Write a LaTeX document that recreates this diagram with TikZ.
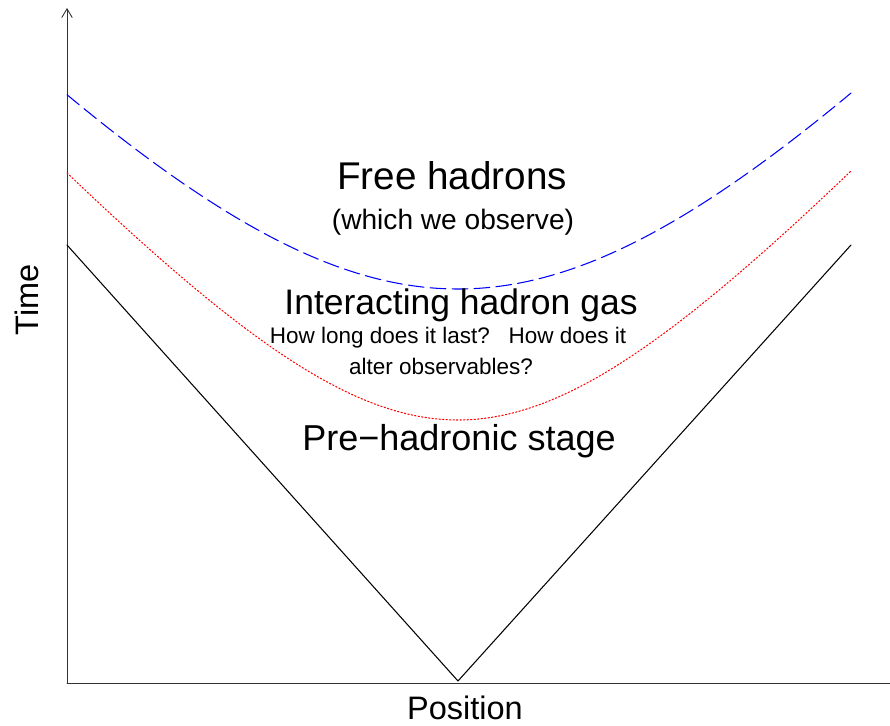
\documentclass[tikz,border=0pt]{standalone}
\usepackage{fontspec}
\setmainfont{Liberation Sans}
\usetikzlibrary{positioning,arrows.meta}
\begin{document}
\begin{tikzpicture}[x=0.02cm, y=-0.02cm, line join=round, line cap=round]
    % Gaya label dan kurva
    \tikzset{
      big/.style={font=\fontsize{20.5}{24}\selectfont},
      huge/.style={font=\fontsize{22}{26}\selectfont},
      mid/.style={font=\fontsize{16}{19}\selectfont},
      small/.style={font=\fontsize{12.8}{15}\selectfont},
      axlabel/.style={font=\fontsize{18.5}{22}\selectfont},
      axis/.style={line width=0.5pt, black!80, -{Straight Barb[length=5pt, width=6pt]}},
      freeze/.style={blue, line width=0.6pt, dash pattern=on 9pt off 3.5pt},
      hadron/.style={red, line width=0.6pt, dash pattern=on 0.8pt off 1.2pt}
    }
    \useasboundingbox (0,0) rectangle (890,726);

    % Sumbu
    \coordinate (S) at (67,683);
    \coordinate (T) at (67,8);
    \coordinate (X) at (901,683);
    \draw[axis] (S) -- (T);
    \draw[axis] (S) -- (X);
    \node[axlabel] (pos) at (465,708) {Position};
    \node[axlabel, rotate=90] (time) at (27,300) {Time};

    % Kerucut cahaya
    \coordinate (O) at (458,681);
    \coordinate (L) at (67,245);
    \coordinate (R) at (851,245);
    \draw[line width=0.6pt] (L) -- (O) -- (R);

    % Hiperbola tau konstan (satuan 100 px)
    \draw[freeze] plot[domain=67:851, samples=120, smooth]
      (\x, {681 - 100*sqrt(3.92*3.92 + (1.115*(\x-458)/100)^2)});
    \draw[hadron] plot[domain=67:851, samples=120, smooth]
      (\x, {681 - 100*sqrt(2.61*2.61 + (1.115*(\x-458)/100)^2)});

    % Label daerah
    \node[huge] (free) at (452,176) {Free hadrons};
    \node[mid] (obs) at (453,222) {(which we observe)};
    \node[big, font=\fontsize{20.2}{24}\selectfont] (gas) at (461,305) {Interacting hadron gas};
    \node[small] (q1) at (448,338) {How long does it last?\ \ \ How does it};
    \node[small] (q2) at (441,366) {alter observables?};
    \node[big] (pre) at (459,441) {Pre\textminus hadronic stage};
  \end{tikzpicture}
\end{document}
